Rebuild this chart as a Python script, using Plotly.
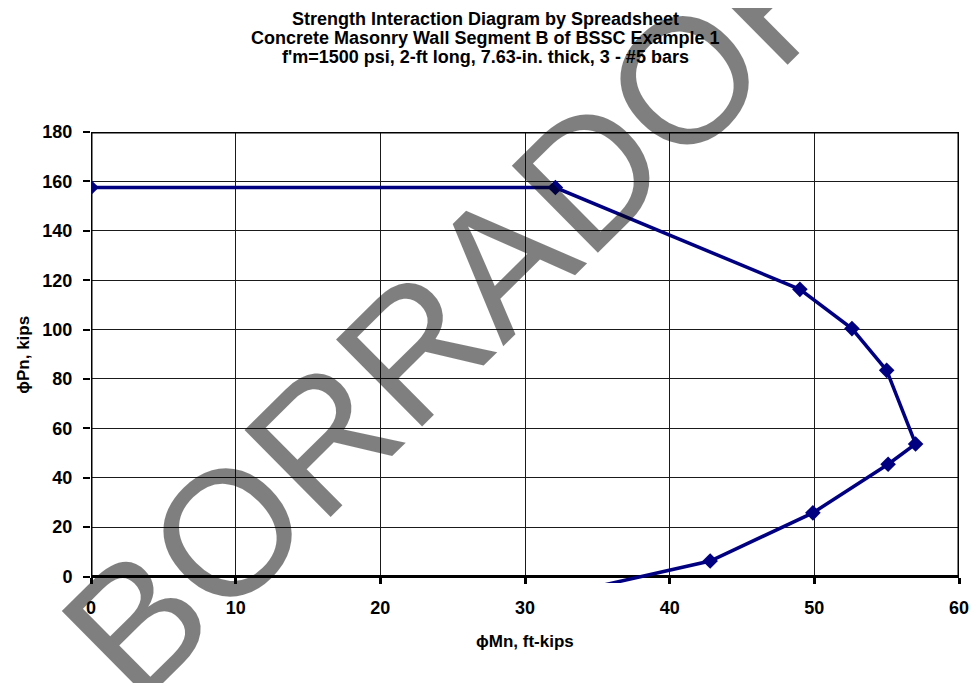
import plotly.graph_objects as go

# Data: phi*Mn (ft-kips) vs phi*Pn (kips)
phi_Mn = [0, 32.1, 49.0, 52.6, 55.0, 57.0, 55.1, 49.9, 42.8, 0]
phi_Pn = [157.5, 157.5, 116.3, 100.4, 83.5, 53.7, 45.5, 25.8, 6.3, -50.2]

x_ticks = [0, 10, 20, 30, 40, 50, 60]
y_ticks = [0, 20, 40, 60, 80, 100, 120, 140, 160, 180]

title_lines = [
    "Strength Interaction Diagram by Spreadsheet",
    "Concrete Masonry Wall Segment B of BSSC Example 1",
    "f'm=1500 psi, 2-ft long, 7.63-in. thick, 3 - #5 bars",
]
x_title = "ϕMn, ft-kips"
y_title = "ϕPn, kips"
watermark = "BORRADOR"

FONT = "Liberation Sans, Arial, sans-serif"
NAVY = "#000080"
Y_MIN = -2.6
OFF = 8  # page body margin offset

fig = go.Figure()
fig.add_trace(go.Scatter(
    x=phi_Mn, y=phi_Pn, mode="lines+markers",
    line=dict(color=NAVY, width=3.5),
    marker=dict(symbol="diamond", size=12, color=NAVY),
    showlegend=False, hoverinfo="x+y",
))

# plot-area frame (axis at y=0, x=0, top and right borders)
fig.add_shape(type="rect", xref="x", yref="y", x0=0, x1=60, y0=0, y1=180,
              line=dict(color="black", width=3), layer="between")

FW, FH = 980 - OFF, 683 - OFF
PL, PR, PT, PB = 91 - OFF, 969 - OFF, 132 - OFF, 583 - OFF

fig.update_layout(
    width=FW, height=FH,
    margin=dict(l=PL, r=FW - PR, t=PT, b=FH - PB),
    paper_bgcolor="white", plot_bgcolor="white",
    font=dict(family=FONT, color="black"),
    xaxis=dict(
        range=[0, 60], tickvals=x_ticks, showgrid=True,
        gridcolor="#1a1a1a", gridwidth=1, zeroline=False, showline=False,
        ticks="outside", ticklen=6, tickwidth=3, tickcolor="black",
        anchor="free", position=(0 - Y_MIN) / (180 - Y_MIN),
        tickfont=dict(family=FONT, size=18, color="black", weight="bold"),
        ticklabelstandoff=9, ticklabeloverflow="allow",
    ),
    yaxis=dict(
        range=[Y_MIN, 180], tickvals=y_ticks, showgrid=True,
        gridcolor="#1a1a1a", gridwidth=1, zeroline=False, showline=False,
        ticks="outside", ticklen=7, tickwidth=1.5, tickcolor="black",
        tickfont=dict(family=FONT, size=18, color="black", weight="bold"),
        ticklabelstandoff=7, ticklabeloverflow="allow",
    ),
)

W = float(PR - PL)
H = float(PB - PT)
def py(px):
    return (PB - (px - OFF)) / H
def pxx(px):
    return ((px - OFF) - PL) / W

for line, ypx in zip(title_lines, [19, 38, 57]):
    fig.add_annotation(text="<b>%s</b>" % line, xref="paper", yref="paper",
                       x=pxx(490), y=py(ypx), xanchor="center", yanchor="middle",
                       showarrow=False, font=dict(family=FONT, size=18, color="black"))

fig.add_annotation(text="<b>%s</b>" % x_title, xref="paper", yref="paper",
                   x=pxx(530), y=py(641), xanchor="center", yanchor="middle",
                   showarrow=False, font=dict(family=FONT, size=17, color="black"))
fig.add_annotation(text="<b>%s</b>" % y_title, xref="paper", yref="paper",
                   x=pxx(22), y=py(355), xanchor="center", yanchor="middle",
                   textangle=-90, showarrow=False,
                   font=dict(family=FONT, size=17, color="black"))

fig.add_annotation(text=watermark, xref="paper", yref="paper",
                   x=pxx(464), y=py(302), xanchor="center", yanchor="middle",
                   textangle=-44.7, showarrow=False,
                   font=dict(family=FONT, size=178, color="rgba(0,0,0,0.5)"))

fig.write_html("out.html")
